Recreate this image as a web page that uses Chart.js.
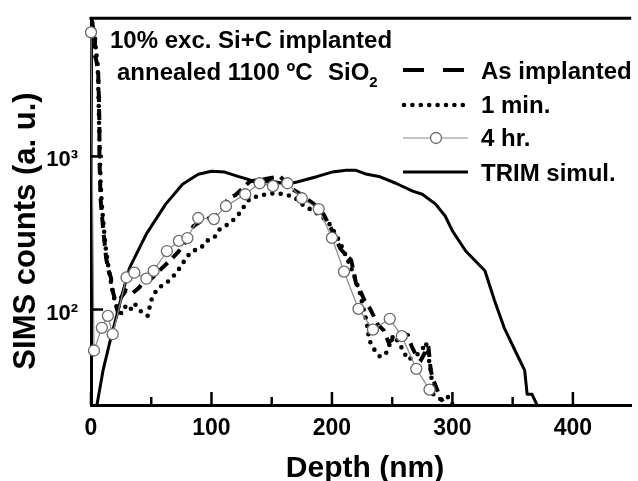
<!DOCTYPE html>
<html>
<head>
<meta charset="utf-8">
<script src="https://cdn.jsdelivr.net/npm/chart.js@4.4.0/dist/chart.umd.min.js"></script>
<style>
html, body { margin: 0; padding: 0; background: #fff; }
#wrap { position: relative; width: 638px; height: 481px; overflow: hidden;
        font-family: "Liberation Sans", Arial, sans-serif; font-weight: bold; color: #000; }
#wrap canvas { position: absolute; left: 0; top: 0; }
.txt { position: absolute; white-space: nowrap; font-size: 24px; line-height: 24px; }
.sub { font-size: 15px; position: relative; top: 7px; }
#ytitle { position: absolute; left: -125px; top: 215px; width: 300px; height: 32px; line-height: 32px;
          font-size: 31px; text-align: center; transform: rotate(-90deg); white-space: nowrap; }
#xtitle { position: absolute; left: 215px; top: 452px; width: 300px; line-height: 30px;
          font-size: 30px; text-align: center; white-space: nowrap; }
</style>
</head>
<body>
<div id="wrap">
  <canvas id="c" width="638" height="481"></canvas>
  <div class="txt" style="left:110px; top:28px;">10% exc. Si+C implanted</div>
  <div class="txt" style="left:117px; top:60px;">annealed 1100 ºC</div>
  <div class="txt" style="left:328px; top:60px;">SiO<span class="sub">2</span></div>
  <div class="txt" style="left:481px; top:59px;">As implanted</div>
  <div class="txt" style="left:481px; top:93px;">1 min.</div>
  <div class="txt" style="left:481px; top:126px;">4 hr.</div>
  <div class="txt" style="left:481px; top:161px;">TRIM simul.</div>
  <div id="ytitle">SIMS counts (a. u.)</div>
  <div id="xtitle">Depth (nm)</div>
</div>
<script>
// axis ticks
const depthTicks = [0, 100, 200, 300, 400];
const depthMinorTicks = [50, 150, 250, 350];
const countTicks = [100, 1000];

// as implanted (dashed)
const implDepth = [0.5, 2, 3.5, 2.5, 4.5, 6, 6.5, 7, 7, 7.5, 8, 9, 10, 12.5, 14.5, 16.5, 18, 20, 22, 25,
    29, 34, 40, 44, 50, 54, 60, 67, 73, 79, 85, 92, 100, 107, 114, 120, 126, 132, 140, 148,
    157, 166, 175, 185, 193, 200, 207, 212, 216, 220, 224, 227, 232, 238, 243, 247, 252, 258, 263, 266,
    270, 274, 277, 280, 282, 284, 288, 292];
const implCounts = [7800, 6800, 5600, 4800, 4200, 3500, 2500, 1600, 1000, 700, 520, 420, 341, 218, 180, 162, 133, 115, 98, 120,
    133, 127, 139, 155, 159, 171, 190, 214, 241, 280, 351, 380, 400, 426, 533, 560, 620, 688, 700, 720,
    740, 620, 560, 488, 420, 330, 250, 225, 210, 148, 130, 115, 100, 80, 73, 61, 65, 70, 68, 58,
    50, 47, 52, 58, 40, 35, 29, 25];

// 1 min anneal (dotted)
const min1Depth = [1, 3, 4, 5.5, 6, 6.5, 7, 7.5, 8, 9, 10.5, 12, 14, 16, 18, 20, 22, 25, 28, 32,
    36, 40, 44, 47, 50, 55, 62, 67, 71, 75, 79, 84, 91, 96, 102, 107, 114, 121, 126, 132,
    139, 145, 153, 161, 169, 177, 185, 193, 198, 204, 209, 214, 218, 223, 227, 229, 230, 231, 235, 240,
    245, 251, 256, 263, 270, 275, 278, 282, 284, 290, 296, 300];
const min1Counts = [7500, 6500, 5000, 4000, 3000, 2000, 1300, 900, 650, 480, 350, 260, 200, 160, 130, 112, 100, 95, 105, 98,
    110, 100, 93, 91, 115, 137, 148, 160, 175, 193, 218, 241, 251, 281, 293, 336, 361, 402, 459, 533,
    550, 566, 575, 566, 541, 473, 440, 396, 361, 302, 250, 202, 171, 130, 95, 82, 71, 63, 55, 49,
    52, 68, 60, 47, 50, 55, 61, 40, 28, 26, 27, 24];

// 4 hr anneal (open circles)
const hr4Depth = [0, 2.5, 9, 14, 18, 29.5, 36, 46, 52, 63, 73, 80, 89, 102, 112, 128, 140, 151, 163, 175,
    189, 200, 210, 222, 234, 248, 258, 270, 281];
const hr4Counts = [6460, 54, 76, 91, 69, 162, 174, 159, 179, 241, 281, 293, 396, 390, 473, 566, 668, 640, 668, 533,
    453, 294, 177, 101, 74, 87, 67, 41, 30];

// TRIM simulation (solid)
const trimDepth = [5, 10, 16, 26, 32, 46, 62, 76, 89, 100, 111, 122, 130, 139, 149, 163, 171, 188, 200, 212,
    220, 229, 239, 253, 267, 275, 286, 294, 300, 311, 327, 335, 343, 352, 360, 362, 366, 370];
const trimCounts = [24, 40, 63, 127, 187, 312, 488, 658, 764, 800, 790, 740, 709, 668, 690, 660, 680, 740, 790, 811,
    811, 764, 740, 668, 593, 566, 488, 408, 326, 241, 179, 114, 76, 54, 40, 28, 28, 24];

const pts = (xs, ys) => xs.map((x, i) => ({ x: x, y: ys[i] }));

const tickFont = (size) => ({ family: '"Liberation Sans", Arial, sans-serif', weight: 'bold', size: size });

// frame top, inward ticks and the key samples
const frameAndKey = {
    id: 'frameAndKey',
    afterDraw(chart) {
        const ctx = chart.ctx;
        const a = chart.chartArea;
        const xs = chart.scales.x, ys = chart.scales.y;
        const seg = (x0, y0, x1, y1) => { ctx.beginPath(); ctx.moveTo(x0, y0); ctx.lineTo(x1, y1); ctx.stroke(); };
        ctx.save();
        ctx.strokeStyle = '#000';
        ctx.lineWidth = 3;
        seg(a.left - 1.5, a.top, a.right, a.top);
        ctx.lineWidth = 2.5;
        depthTicks.forEach(v => { const p = xs.getPixelForValue(v); seg(p, a.bottom, p, a.bottom - 13); });
        depthMinorTicks.forEach(v => { const p = xs.getPixelForValue(v); seg(p, a.bottom, p, a.bottom - 8); });
        countTicks.forEach(v => { const p = ys.getPixelForValue(v); seg(a.left, p, a.left + 12, p); });

        // key
        const ds = chart.data.datasets;
        const kx0 = 403, kx1 = 466;
        // as implanted
        ctx.lineWidth = 4; ctx.setLineDash([21, 19]); ctx.lineCap = 'butt';
        seg(kx0, 70, kx1, 70);
        // 1 min
        ctx.lineWidth = ds[1].borderWidth; ctx.setLineDash([0, 8.4]); ctx.lineCap = 'round';
        seg(kx0 + 1, 105, kx1, 105);
        ctx.setLineDash([]); ctx.lineCap = 'butt';
        // 4 hr
        ctx.strokeStyle = ds[0].borderColor; ctx.lineWidth = ds[0].borderWidth;
        seg(kx0, 138, kx1 + 2, 138);
        ctx.beginPath(); ctx.arc(436, 138, ds[0].pointRadius, 0, Math.PI * 2);
        ctx.fillStyle = '#fff'; ctx.fill();
        ctx.strokeStyle = ds[0].pointBorderColor; ctx.lineWidth = ds[0].pointBorderWidth; ctx.stroke();
        // TRIM
        ctx.strokeStyle = '#000'; ctx.lineWidth = ds[3].borderWidth;
        seg(kx0, 172, kx1 + 2, 172);
        ctx.restore();
    }
};

new Chart(document.getElementById('c'), {
    type: 'line',
    data: {
        datasets: [
            {
                label: '4 hr.', data: pts(hr4Depth, hr4Counts),
                borderColor: '#8a8a8a', borderWidth: 1.2,
                pointRadius: 5.5, pointBackgroundColor: '#fff', pointBorderColor: '#6a6a6a', pointBorderWidth: 1.3,
                order: 0, clip: false
            },
            {
                label: '1 min.', data: pts(min1Depth, min1Counts),
                borderColor: '#000', borderWidth: 4.6, borderDash: [0, 8.4], borderCapStyle: 'round',
                pointRadius: 0, order: 1
            },
            {
                label: 'As implanted', data: pts(implDepth, implCounts),
                borderColor: '#000', borderWidth: 4, borderDash: [11, 7],
                pointRadius: 0, order: 2
            },
            {
                label: 'TRIM simul.', data: pts(trimDepth, trimCounts),
                borderColor: '#000', borderWidth: 3, borderJoinStyle: 'round',
                pointRadius: 0, order: 3
            }
        ]
    },
    options: {
        responsive: false,
        animation: false,
        devicePixelRatio: 1,
        layout: { padding: { top: 16, left: 0, right: 0, bottom: 0 } },
        plugins: { legend: { display: false }, tooltip: { enabled: false } },
        elements: { line: { tension: 0 } },
        scales: {
            x: {
                type: 'linear', min: 0, max: 448.4,
                grid: { display: false },
                border: { display: true, color: '#000', width: 3 },
                ticks: { font: tickFont(23), color: '#000', padding: 2, maxRotation: 0 },
                afterBuildTicks: s => { s.ticks = depthTicks.map(v => ({ value: v })); },
                afterFit: s => { s.height = 76; }
            },
            y: {
                type: 'logarithmic', min: 23.8, max: 7990,
                grid: { display: false },
                border: { display: true, color: '#000', width: 3 },
                ticks: {
                    font: tickFont(22), color: '#000', padding: 5, labelOffset: 4,
                    callback: v => (v === 100 ? '10\u00B2' : v === 1000 ? '10\u00B3' : '')
                },
                afterBuildTicks: s => { s.ticks = countTicks.map(v => ({ value: v })); },
                afterFit: s => { s.width = 91; }
            }
        }
    },
    plugins: [frameAndKey]
});
</script>
</body>
</html>
